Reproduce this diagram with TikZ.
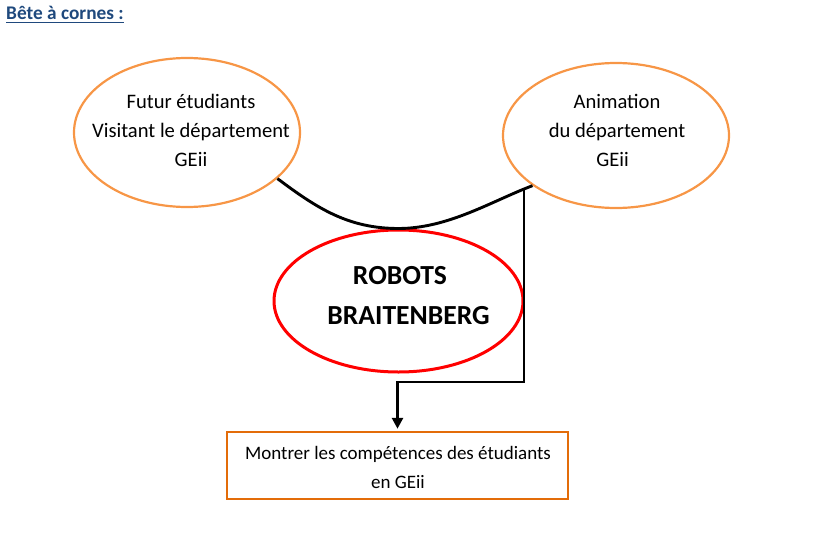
\documentclass[tikz,border=0pt]{standalone}
\usepackage{fontspec}
\setmainfont{Carlito}
\usetikzlibrary{shapes.geometric,arrows.meta,calc}
\definecolor{accorange}{HTML}{F79646}
\definecolor{boxorange}{HTML}{E36C09}
\definecolor{titleblue}{HTML}{1F497D}
\definecolor{robred}{HTML}{FF0000}
\begin{document}
\begin{tikzpicture}[x=1pt,y=-1pt,
  bubble/.style={ellipse, draw=accorange, line width=2.2pt, inner sep=0pt},
  core/.style={ellipse, draw=robred, line width=3pt, inner sep=0pt},
  goal/.style={rectangle, draw=boxorange, line width=2.5pt, inner sep=0pt},
  txt/.style={align=center, inner sep=0pt, font=\fontsize{20.6}{29}\selectfont},
  boxtxt/.style={align=center, inner sep=0pt, font=\fontsize{19}{29}\selectfont},
  bigtxt/.style={align=center, inner sep=0pt, font=\bfseries\fontsize{27.6}{40}\selectfont},
  link/.style={line width=2.9pt, black},
  tip/.style={-{Triangle[length=11pt,width=11pt]}}]
\useasboundingbox (0,0) rectangle (813,551);
% title
\node[anchor=base west, inner sep=0pt, text=titleblue, font=\bfseries\fontsize{19.3}{24}\selectfont] (T) at (6,20) {Bête à cornes :};
\draw[titleblue, line width=1.3pt] ($(T.base west)+(0,2.5)$) -- ($(T.base east)+(0,2.5)$);
% shapes
\node[bubble, minimum width=226pt, minimum height=149pt] (L) at (187,132.5) {};
\node[bubble, minimum width=226pt, minimum height=145pt] (R) at (616,135.5) {};
\node[core, minimum width=249pt, minimum height=142pt] (M) at (398.5,301) {};
\node[goal, minimum width=341pt, minimum height=67pt] (B) at (397.5,465.5) {};
% texts
\node[txt] (Lt) at (191,130) {Futur étudiants\\Visitant le département\\GEii};
\node[txt] (Rt) at (617,130.5) {Animation\\du département\\GEii\hspace*{9pt}};
\node[bigtxt] (Mt) at (408.5,295.5) {ROBOTS\hspace*{17pt}\\BRAITENBERG};
\node[boxtxt] (Bt) at (398,467) {Montrer les compétences des étudiants\\en GEii};
% connectors
\draw[link] (L.-27) .. controls +(40,30) and +(-50,0) .. (M.north)
            .. controls +(50,0) and +(-40,15) .. (R.211);
\coordinate (J) at (524,189);
\coordinate (K) at (524,382);
\draw[link, tip, shorten >=2pt] (J) -- (K) -| (B.north);
\end{tikzpicture}
\end{document}
